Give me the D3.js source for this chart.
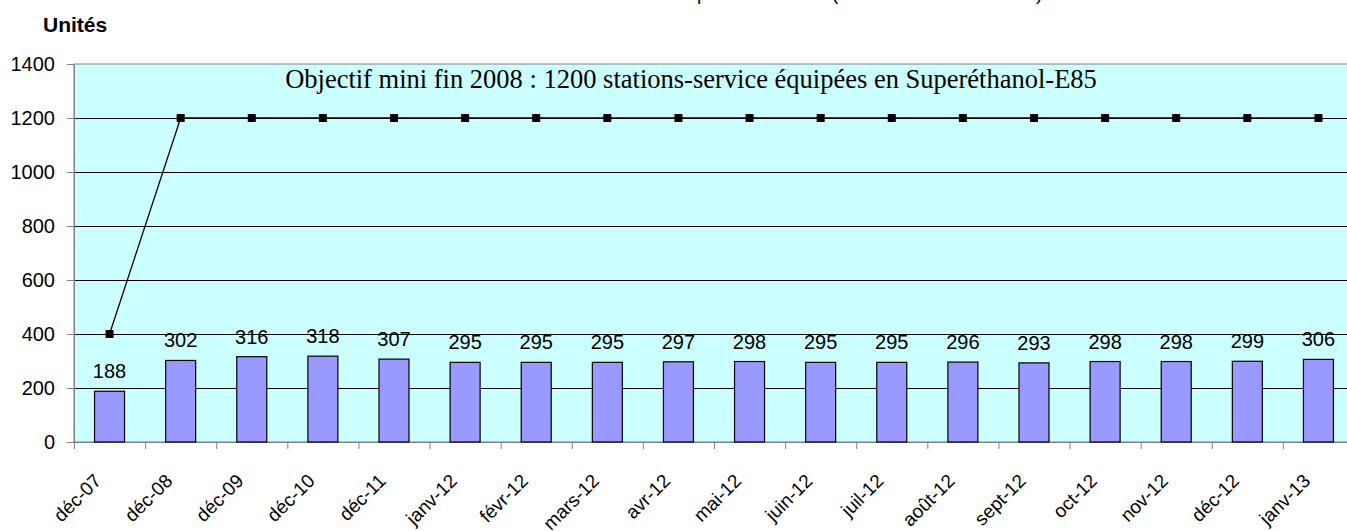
<!DOCTYPE html>
<html>
<head>
<meta charset="utf-8">
<script src="https://d3js.org/d3.v7.min.js"></script>
<style>
  body { margin: 0; background: #fff; }
  svg { display: block; font-family: "Liberation Sans", Arial, sans-serif; }
</style>
</head>
<body>
<div id="chart"></div>
<script>
// Data
const months = ["déc-07", "déc-08", "déc-09", "déc-10", "déc-11", "janv-12", "févr-12", "mars-12", "avr-12",
  "mai-12", "juin-12", "juil-12", "août-12", "sept-12", "oct-12", "nov-12", "déc-12", "janv-13"]
const stations = [188, 302, 316, 318, 307, 295, 295, 295, 297, 298, 295, 295, 296, 293, 298, 298, 299, 306]
const objectif = [400, 1200, 1200, 1200, 1200, 1200, 1200, 1200, 1200, 1200, 1200, 1200, 1200, 1200, 1200, 1200, 1200, 1200]
const yTicks = [0, 200, 400, 600, 800, 1000, 1200, 1400]
const chartTitle = "Nombre de stations-service distribuant du Superéthanol-E85 (nombres en fin de mois)"
const noteText = "Objectif mini fin 2008 : 1200 stations-service équipées en Superéthanol-E85"

// Dimensions
const width = 1347
const height = 531
const margin = {top: 64, left: 74}
const plotWidth = 1280
const plotHeight = 378
const barColor = "#9999ff"
const plotBg = "#ccffff"
const axisColor = "#808080"

const svg = d3.select("#chart")
  .append("svg")
    .attr("width", width)
    .attr("height", height)

// Title (cut off at the top of the picture, like the original)
svg.append("text")
    .attr("x", 680)
    .attr("y", 0)
    .attr("text-anchor", "middle")
    .style("font-size", "19px")
    .text(chartTitle)

svg.append("text")
    .attr("x", 43)
    .attr("y", 32)
    .style("font-size", "21px")
    .style("font-weight", "bold")
    .text("Unités")

const plot = svg.append("g")
    .attr("transform", `translate(${margin.left},${margin.top})`)

// Scales
const xScale = d3.scaleBand()
    .domain(months)
    .range([0, plotWidth])

const yScale = d3.scaleLinear()
    .domain([0, 1400])
    .range([plotHeight, 0])

// Plot background
plot.append("rect")
    .attr("width", plotWidth)
    .attr("height", plotHeight)
    .attr("fill", plotBg)
    .attr("stroke", axisColor)

// Grid lines
plot.append("g")
    .attr("class", "grid")
    .call(
      d3.axisLeft(yScale)
        .tickValues(yTicks.filter(function(d) { return d > 0 && d < 1400 }))
        .tickSizeInner(-plotWidth)
        .tickSizeOuter(0)
        .tickFormat(""))
    .call(function(g) { g.select(".domain").remove() })
    .selectAll("line")
      .attr("stroke", "#000")

// Y-axis
plot.append("g")
    .attr("class", "y-axis")
    .call(
      d3.axisLeft(yScale)
        .tickValues(yTicks)
        .tickSizeInner(7)
        .tickSizeOuter(0)
        .tickPadding(12)
        .tickFormat(d3.format("d")))
    .call(function(g) {
      g.select(".domain").attr("stroke", axisColor)
      g.selectAll("line").attr("stroke", axisColor)
      g.selectAll("text")
        .attr("fill", "#000")
        .style("font-size", "20px")
        .style("font-family", "Liberation Sans, Arial, sans-serif")
    })

// X-axis ticks at band edges
const edgeScale = d3.scaleLinear()
    .domain([0, months.length])
    .range([0, plotWidth])

plot.append("g")
    .attr("class", "x-axis")
    .attr("transform", `translate(0,${plotHeight})`)
    .call(
      d3.axisBottom(edgeScale)
        .ticks(months.length)
        .tickSizeInner(7)
        .tickSizeOuter(0)
        .tickFormat(""))
    .call(function(g) {
      g.select(".domain").attr("stroke", axisColor)
      g.selectAll("line").attr("stroke", axisColor)
    })

// X labels
plot.append("g")
    .selectAll("text")
    .data(months)
    .enter().append("text")
    .attr("transform", function(d) {
      return `translate(${xScale(d) + xScale.bandwidth() / 2 - 7},${plotHeight + 40}) rotate(-45)`
    })
    .attr("text-anchor", "end")
    .style("font-size", "19px")
    .text(function(d) { return d })

// Note inside the plot
plot.append("text")
    .attr("x", 617)
    .attr("y", 24)
    .attr("text-anchor", "middle")
    .style("font-family", "Liberation Serif, Times New Roman, serif")
    .style("font-size", "26.5px")
    .text(noteText)

// Bars
const barWidth = 30
plot.selectAll(".bar")
    .data(stations)
    .enter().append("rect")
    .attr("class", "bar")
    .attr("x", function(d, i) { return xScale(months[i]) + xScale.bandwidth() / 2 - barWidth / 2 })
    .attr("y", function(d) { return yScale(d) })
    .attr("width", barWidth)
    .attr("height", function(d) { return plotHeight - yScale(d) })
    .attr("fill", barColor)
    .attr("stroke", "#000")
    .attr("stroke-width", 1.2)

// Bar labels
plot.selectAll(".bar-label")
    .data(stations)
    .enter().append("text")
    .attr("class", "bar-label")
    .attr("x", function(d, i) { return xScale(months[i]) + xScale.bandwidth() / 2 })
    .attr("y", function(d) { return yScale(d) - 13 })
    .attr("text-anchor", "middle")
    .style("font-size", "20px")
    .text(function(d) { return d })

// Objective line
const line = d3.line()
    .x(function(d, i) { return xScale(months[i]) + xScale.bandwidth() / 2 })
    .y(function(d) { return yScale(d) })

plot.append("path")
    .datum(objectif)
    .attr("fill", "none")
    .attr("stroke", "#000")
    .attr("stroke-width", 1.3)
    .attr("d", line)

// Square markers
const markerSize = 8
plot.selectAll(".marker")
    .data(objectif)
    .enter().append("rect")
    .attr("class", "marker")
    .attr("x", function(d, i) { return xScale(months[i]) + xScale.bandwidth() / 2 - markerSize / 2 })
    .attr("y", function(d) { return yScale(d) - markerSize / 2 })
    .attr("width", markerSize)
    .attr("height", markerSize)
    .attr("fill", "#000")
</script>
</body>
</html>
